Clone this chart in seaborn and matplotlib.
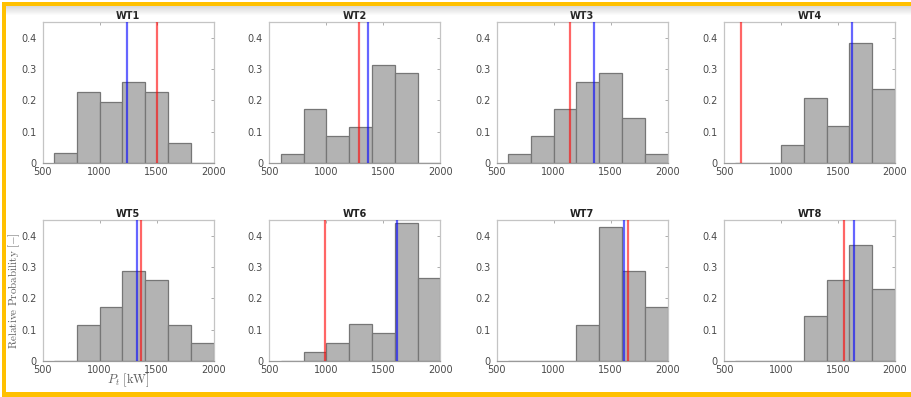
import numpy as np
import matplotlib.pyplot as plt
import matplotlib.patches as mpatches
import seaborn as sns

# bin edges of the power histograms [kW]
edges = [600, 800, 1000, 1200, 1400, 1600, 1800, 2000]
names = ['WT1', 'WT2', 'WT3', 'WT4', 'WT5', 'WT6', 'WT7', 'WT8']

wt1 = [0.032, 0.226, 0.194, 0.258, 0.226, 0.065, 0.0]
wt2 = [0.029, 0.171, 0.086, 0.114, 0.314, 0.286, 0.0]
wt3 = [0.029, 0.086, 0.171, 0.257, 0.286, 0.143, 0.029]
wt4 = [0.0, 0.0, 0.059, 0.206, 0.118, 0.382, 0.235]
wt5 = [0.0, 0.114, 0.171, 0.286, 0.257, 0.114, 0.057]
wt6 = [0.0, 0.029, 0.059, 0.118, 0.088, 0.441, 0.265]
wt7 = [0.0, 0.0, 0.0, 0.114, 0.429, 0.286, 0.171]
wt8 = [0.0, 0.0, 0.0, 0.143, 0.257, 0.371, 0.229]
probs = [wt1, wt2, wt3, wt4, wt5, wt6, wt7, wt8]

red_lines = [1500, 1290, 1140, 650, 1360, 990, 1650, 1550]
blue_lines = [1240, 1370, 1350, 1620, 1330, 1620, 1620, 1640]

sns.set_style('white')
plt.rcParams['font.family'] = ['DejaVu Sans']
plt.rcParams['mathtext.fontset'] = 'cm'

fig = plt.figure(figsize=(9.12, 3.97), dpi=100)
fig.patch.set_facecolor('white')

centers = [(edges[i] + edges[i + 1]) / 2 for i in range(len(edges) - 1)]
lefts = [0.0468, 0.2953, 0.5446, 0.7939]
bottoms = [0.5894, 0.0907]
w, h = 0.1875, 0.3552

axes = []
for k in range(8):
    r, c = divmod(k, 4)
    ax = fig.add_axes([lefts[c], bottoms[r], w, h])
    sns.histplot(x=centers, weights=probs[k], bins=edges, ax=ax,
                 color='#b3b3b3', alpha=1.0, edgecolor='#767676',
                 linewidth=0.9, zorder=2)
    ax.axvline(red_lines[k], color='red', alpha=0.6, lw=1.6, zorder=3)
    ax.axvline(blue_lines[k], color='blue', alpha=0.6, lw=1.6, zorder=3)
    ax.set_xlim(500, 2000)
    ax.set_ylim(0, 0.45)
    ax.set_xticks([500, 1000, 1500, 2000])
    ax.set_xticklabels(['500', '1000', '1500', '2000'])
    ax.set_yticks([0, 0.1, 0.2, 0.3, 0.4])
    ax.set_yticklabels(['0', '0.1', '0.2', '0.3', '0.4'])
    ax.tick_params(direction='in', length=2, width=0.6, color='#a0a0a0',
                   labelsize=7, labelcolor='#4a4a4a', top=True, right=True)
    ax.tick_params(axis='y', pad=4.5)
    ax.tick_params(axis='x', pad=3)
    for s in ax.spines.values():
        s.set_color('#c4c4c4')
        s.set_linewidth(0.9)
    ax.spines['bottom'].set_color('#9a9a9a')
    ax.set_xlabel('')
    ax.set_ylabel('')
    ax.set_title(names[k], fontsize=7, fontweight='bold', color='#222222', pad=2)
    axes.append(ax)

axes[4].set_ylabel(r'$\mathrm{Relative\ Probability\ [-]}$', fontsize=8,
                   color='#606060')
axes[4].yaxis.set_label_coords(-0.12, 0.5)
axes[4].set_xlabel(r'$P_t\ \mathrm{[kW]}$', fontsize=9, color='#606060')
axes[4].xaxis.set_label_coords(0.5, -0.075)

# slide frame: shadow under the top edge and the yellow border
for i in range(10):
    fig.patches.append(mpatches.Rectangle((0.004, 1 - (6 + i) / 397), 1, 1 / 397,
                       transform=fig.transFigure, color='#9a9a9a',
                       alpha=0.4 * (1 - i / 10), lw=0, zorder=0))
yel = '#ffc000'
fig.patches.append(mpatches.Rectangle((0.0022, 1 - 5.5 / 397), 1, 3.5 / 397,
                   transform=fig.transFigure, color=yel, lw=0, zorder=5))
fig.patches.append(mpatches.Rectangle((0.0022, 0), 3.5 / 912, 1 - 2 / 397,
                   transform=fig.transFigure, color=yel, lw=0, zorder=5))
fig.patches.append(mpatches.Rectangle((0.0022, 0.5 / 397), 1, 4.5 / 397,
                   transform=fig.transFigure, color=yel, lw=0, zorder=5))

fig.savefig('out.png', dpi=100, facecolor='white')
